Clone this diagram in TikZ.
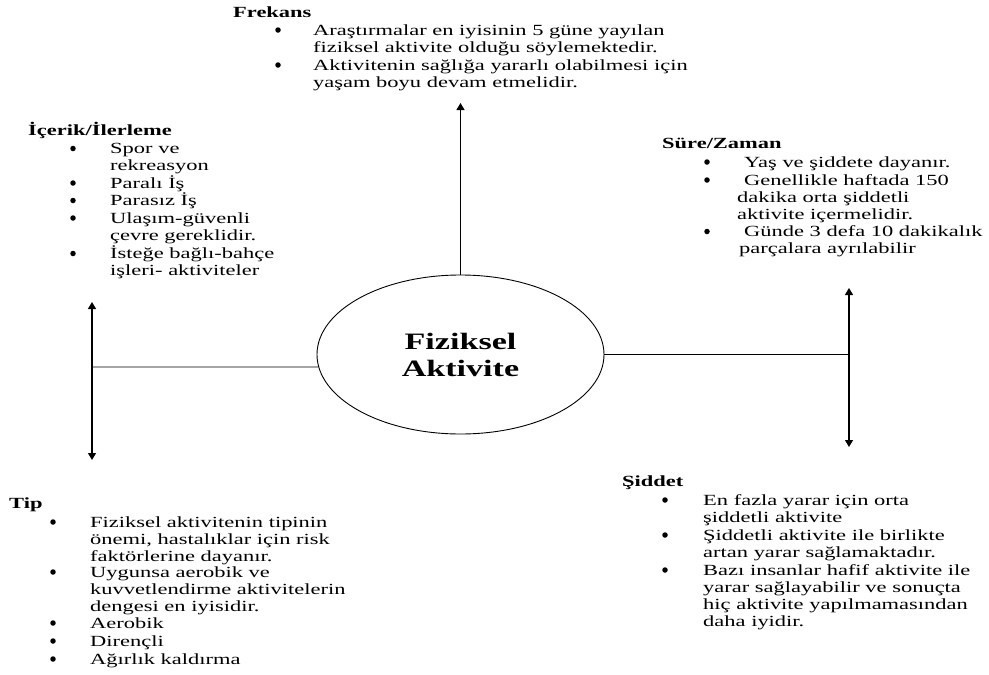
\documentclass[tikz,border=0pt]{standalone}
\usepackage{fontspec}
\setmainfont{Liberation Serif}[FakeStretch=1.45]
\usetikzlibrary{shapes.geometric,arrows.meta}

% several lines of text sharing the baseline of their first line
\newcommand\txtlines[1]{\begin{tabular}[t]{@{}l@{}}#1\end{tabular}}

\tikzset{pointer/.tip={Triangle[length=7pt,width=8pt]}}

\begin{document}
\begin{tikzpicture}[x=1pt,y=-1pt,
  lbl/.style={anchor=base west, inner sep=0pt, font=\fontsize{15.5}{17}\selectfont},
  head/.style={lbl, font=\fontsize{15.5}{17}\selectfont\bfseries},
  dot/.style={circle, fill=black, inner sep=0pt, minimum size=5.5pt},
  axis/.style={line width=1.3pt},
  link/.style={line width=0.8pt},
  hub/.style={ellipse, draw, line width=0.9pt, minimum width=287pt, minimum height=159pt,
    inner sep=0pt, align=center, font=\fontsize{23.5}{27}\selectfont\bfseries}]
\useasboundingbox (0,0) rectangle (989,675);

% central oval
\node[hub] (fa) at (460.5,354.5) {Fiziksel\\Aktivite};

% connector ends
\coordinate (ftop) at (460.5,103);
\coordinate (lt) at (92,302);
\coordinate (lb) at (92,460);
\coordinate (lj) at (92,367);
\coordinate (rt) at (849,288);
\coordinate (rb) at (849,447);
\coordinate (rj) at (849,354.5);

\draw[axis,-pointer] (fa.north) -- (ftop);
\draw[axis,pointer-pointer] (lt) -- (lb);
\draw[axis,pointer-pointer] (rt) -- (rb);
\draw[link] (fa.185) -- (lj);
\draw[link] (fa.east) -- (rj);

% Frekans
\node[head] (frek) at (233,17) {Frekans};
\node[dot] (frekd1) at (278,30) {};
\node[dot] (frekd2) at (278,65) {};
\node[lbl] (frek1) at (313,35) {\txtlines{Araştırmalar en iyisinin 5 güne yayılan\\fiziksel aktivite olduğu söylemektedir.}};
\node[lbl] (frek2) at (313,70) {\txtlines{Aktivitenin sağlığa yararlı olabilmesi için\\yaşam boyu devam etmelidir.}};

% İçerik/İlerleme
\node[head] (icer) at (28,135) {İçerik/İlerleme};
\node[dot] (icerd1) at (73,148.5) {};
\node[dot] (icerd2) at (73,183) {};
\node[dot] (icerd3) at (73,200.5) {};
\node[dot] (icerd4) at (73,218) {};
\node[dot] (icerd5) at (73,253.5) {};
\node[lbl] (icer1) at (110,153.5) {\txtlines{Spor ve\\rekreasyon}};
\node[lbl] (icer2) at (110,188) {Paralı İş};
\node[lbl] (icer3) at (110,205.5) {Parasız İş};
\node[lbl] (icer4) at (110,223) {\txtlines{Ulaşım-güvenli\\çevre gereklidir.}};
\node[lbl] (icer5) at (110,258.5) {\txtlines{İsteğe bağlı-bahçe\\işleri- aktiviteler}};

% Süre/Zaman
\node[head] (sure) at (662,148) {Süre/Zaman};
\node[dot] (sured1) at (707,162) {};
\node[dot] (sured2) at (707,180) {};
\node[dot] (sured3) at (707,231.5) {};
\node[lbl] (sure1) at (737,167) {\hspace*{7pt}Yaş ve şiddete dayanır.};
\node[lbl] (sure2) at (737,185) {\txtlines{\hspace*{7pt}Genellikle haftada 150\\dakika orta şiddetli\\aktivite içermelidir.}};
\node[lbl] (sure3) at (737,236.5) {\txtlines{\hspace*{7pt}Günde 3 defa 10 dakikalık\\\hspace*{2pt}parçalara ayrılabilir}};

% Tip
\node[head] (tipx) at (9,508) {Tip};
\node[dot] (tipd1) at (53,522) {};
\node[dot] (tipd2) at (53,572) {};
\node[dot] (tipd3) at (53,623) {};
\node[dot] (tipd4) at (53,641) {};
\node[dot] (tipd5) at (53,659) {};
\node[lbl] (tip1) at (90,527) {\txtlines{Fiziksel aktivitenin tipinin\\önemi, hastalıklar için risk\\faktörlerine dayanır.}};
\node[lbl] (tip2) at (90,577) {\txtlines{Uygunsa aerobik ve\\kuvvetlendirme aktivitelerin\\dengesi en iyisidir.}};
\node[lbl] (tip3) at (90,628) {Aerobik};
\node[lbl] (tip4) at (90,646) {Dirençli};
\node[lbl] (tip5) at (90,664) {Ağırlık kaldırma};

% Şiddet
\node[head] (sid) at (622,486) {Şiddet};
\node[dot] (sidd1) at (665,500) {};
\node[dot] (sidd2) at (665,535) {};
\node[dot] (sidd3) at (665,570) {};
\node[lbl] (sid1) at (703,505) {\txtlines{En fazla yarar için orta\\şiddetli aktivite}};
\node[lbl] (sid2) at (703,540) {\txtlines{Şiddetli aktivite ile birlikte\\artan yarar sağlamaktadır.}};
\node[lbl] (sid3) at (703,575) {\txtlines{Bazı insanlar hafif aktivite ile\\yarar sağlayabilir ve sonuçta\\hiç aktivite yapılmamasından\\daha iyidir.}};
\end{tikzpicture}
\end{document}
